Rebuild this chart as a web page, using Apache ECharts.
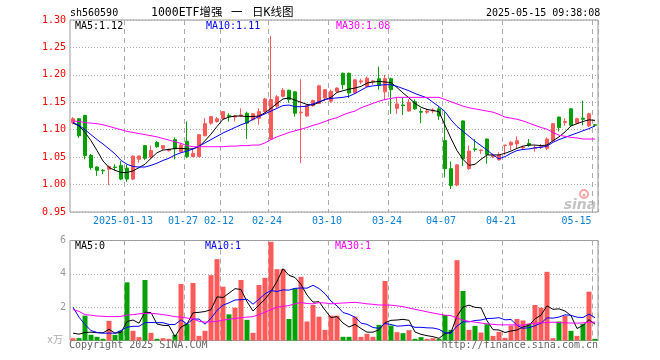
<!DOCTYPE html>
<html><head><meta charset="utf-8">
<script src="https://cdn.jsdelivr.net/npm/echarts@6/dist/echarts.min.js"></script>
<style>html,body{margin:0;padding:0;background:#fff}#c{width:660px;height:360px}</style>
</head><body><div id="c"></div>
<script>
const dates = ['2024-12-30','2024-12-31','2025-01-02','2025-01-03','2025-01-06','2025-01-07','2025-01-08','2025-01-09','2025-01-10','2025-01-13','2025-01-14','2025-01-15','2025-01-16','2025-01-17','2025-01-20','2025-01-21','2025-01-22','2025-01-23','2025-01-24','2025-01-27','2025-02-05','2025-02-06','2025-02-07','2025-02-10','2025-02-11','2025-02-12','2025-02-13','2025-02-14','2025-02-17','2025-02-18','2025-02-19','2025-02-20','2025-02-21','2025-02-24','2025-02-25','2025-02-26','2025-02-27','2025-02-28','2025-03-03','2025-03-04','2025-03-05','2025-03-06','2025-03-07','2025-03-10','2025-03-11','2025-03-12','2025-03-13','2025-03-14','2025-03-17','2025-03-18','2025-03-19','2025-03-20','2025-03-21','2025-03-24','2025-03-25','2025-03-26','2025-03-27','2025-03-28','2025-03-31','2025-04-01','2025-04-02','2025-04-03','2025-04-07','2025-04-08','2025-04-09','2025-04-10','2025-04-11','2025-04-14','2025-04-15','2025-04-16','2025-04-17','2025-04-18','2025-04-21','2025-04-22','2025-04-23','2025-04-24','2025-04-25','2025-04-28','2025-04-29','2025-04-30','2025-05-06','2025-05-07','2025-05-08','2025-05-09','2025-05-12','2025-05-13','2025-05-14','2025-05-15'];
const openP = [1.113,1.120,1.126,1.053,1.032,1.026,1.028,1.032,1.035,1.030,1.010,1.046,1.071,1.050,1.077,1.066,1.062,1.082,1.060,1.079,1.051,1.051,1.089,1.112,1.115,1.120,1.126,1.123,1.125,1.130,1.118,1.121,1.133,1.083,1.143,1.161,1.172,1.169,1.131,1.125,1.144,1.148,1.158,1.152,1.170,1.203,1.203,1.167,1.187,1.179,1.187,1.193,1.169,1.193,1.139,1.145,1.134,1.151,1.133,1.132,1.134,1.138,1.080,1.029,0.999,1.116,1.029,1.065,1.062,1.083,1.051,1.045,1.071,1.072,1.074,1.067,1.075,1.066,1.068,1.066,1.080,1.123,1.113,1.138,1.112,1.121,1.107,1.109];
const closeP = [1.120,1.089,1.053,1.031,1.026,1.025,1.033,1.031,1.010,1.010,1.052,1.052,1.048,1.062,1.069,1.071,1.064,1.065,1.072,1.051,1.057,1.091,1.111,1.124,1.120,1.133,1.124,1.125,1.127,1.112,1.129,1.133,1.156,1.155,1.160,1.172,1.155,1.130,1.132,1.144,1.153,1.180,1.173,1.170,1.176,1.182,1.167,1.191,1.189,1.194,1.189,1.181,1.193,1.173,1.147,1.144,1.150,1.138,1.132,1.134,1.136,1.125,1.029,0.998,1.036,1.047,1.061,1.064,1.063,1.055,1.053,1.054,1.072,1.077,1.080,1.068,1.072,1.067,1.069,1.083,1.111,1.104,1.115,1.108,1.120,1.119,1.129,1.108];
const lowP = [1.110,1.085,1.046,1.027,1.016,1.019,0.999,1.026,1.008,1.005,1.008,1.040,1.045,1.046,1.067,1.063,1.060,1.046,1.058,1.048,1.050,1.050,1.088,1.109,1.113,1.118,1.115,1.115,1.124,1.083,1.117,1.109,1.131,1.082,1.140,1.159,1.149,1.124,1.039,1.123,1.142,1.147,1.152,1.149,1.168,1.174,1.158,1.165,1.183,1.178,1.182,1.173,1.155,1.129,1.129,1.127,1.133,1.136,1.112,1.129,1.130,1.118,1.013,0.992,0.997,1.034,1.027,1.060,1.056,1.038,1.048,1.044,1.054,1.063,1.066,1.065,1.069,1.060,1.065,1.063,1.078,1.097,1.107,1.105,1.110,1.108,1.105,1.106];
const highP = [1.123,1.121,1.127,1.056,1.033,1.028,1.035,1.037,1.043,1.036,1.053,1.053,1.072,1.071,1.079,1.072,1.066,1.086,1.075,1.115,1.066,1.092,1.121,1.125,1.123,1.134,1.130,1.127,1.139,1.133,1.130,1.139,1.158,1.271,1.163,1.176,1.173,1.170,1.192,1.146,1.155,1.182,1.174,1.173,1.177,1.204,1.204,1.192,1.193,1.197,1.191,1.215,1.200,1.195,1.158,1.158,1.156,1.155,1.139,1.138,1.139,1.142,1.132,1.042,1.037,1.117,1.071,1.083,1.064,1.084,1.057,1.059,1.072,1.079,1.088,1.071,1.083,1.071,1.074,1.086,1.112,1.124,1.121,1.139,1.122,1.153,1.131,1.110];
const ma5 = [1.112,1.107,1.095,1.080,1.062,1.043,1.031,1.026,1.022,1.022,1.025,1.031,1.037,1.048,1.058,1.063,1.064,1.066,1.066,1.065,1.065,1.069,1.080,1.092,1.106,1.119,1.123,1.125,1.125,1.124,1.124,1.125,1.131,1.139,1.148,1.156,1.158,1.154,1.150,1.146,1.145,1.150,1.155,1.159,1.168,1.171,1.174,1.176,1.179,1.185,1.187,1.188,1.187,1.186,1.177,1.167,1.158,1.148,1.141,1.137,1.135,1.133,1.108,1.084,1.062,1.046,1.035,1.037,1.046,1.054,1.054,1.054,1.057,1.061,1.066,1.070,1.072,1.072,1.071,1.072,1.080,1.087,1.096,1.107,1.111,1.115,1.118,1.117];
const ma10 = [1.113,1.108,1.100,1.091,1.082,1.074,1.065,1.056,1.044,1.037,1.033,1.032,1.032,1.035,1.039,1.044,1.048,1.054,1.058,1.061,1.065,1.070,1.076,1.082,1.088,1.094,1.099,1.104,1.109,1.113,1.119,1.124,1.129,1.134,1.139,1.144,1.145,1.142,1.142,1.143,1.147,1.151,1.155,1.157,1.158,1.159,1.161,1.166,1.172,1.178,1.180,1.181,1.182,1.182,1.179,1.175,1.171,1.166,1.162,1.158,1.150,1.142,1.133,1.118,1.106,1.097,1.088,1.079,1.071,1.063,1.054,1.047,1.051,1.057,1.062,1.064,1.065,1.067,1.068,1.070,1.077,1.082,1.086,1.090,1.094,1.098,1.102,1.107];
const ma30 = [1.116,1.115,1.113,1.112,1.111,1.109,1.106,1.103,1.100,1.097,1.095,1.093,1.091,1.089,1.087,1.084,1.081,1.078,1.075,1.071,1.069,1.069,1.069,1.069,1.069,1.069,1.070,1.070,1.071,1.071,1.072,1.072,1.076,1.082,1.087,1.091,1.095,1.098,1.101,1.104,1.108,1.111,1.115,1.119,1.122,1.127,1.131,1.134,1.140,1.144,1.148,1.152,1.155,1.157,1.159,1.159,1.159,1.159,1.159,1.159,1.159,1.159,1.155,1.151,1.147,1.143,1.140,1.138,1.136,1.134,1.132,1.128,1.123,1.121,1.119,1.116,1.112,1.108,1.104,1.101,1.095,1.090,1.088,1.086,1.085,1.083,1.083,1.083];
const volume = [0.14,0.14,1.49,0.34,0.22,0.1,1.18,0.34,0.58,3.49,0.58,0.2,3.63,0.46,0.1,0.14,0.1,0.34,3.39,1.0,3.45,0.28,0.58,3.92,4.88,3.23,1.57,1.97,3.63,1.24,0.46,3.33,3.76,5.92,4.28,4.28,1.29,3.13,3.82,1.14,2.13,1.43,0.64,1.49,1.49,0.22,0.22,1.43,0.22,0.4,0.22,0.94,3.57,0.9,0.5,0.44,0.62,0.1,0.2,0.1,0.14,0.1,1.53,0.64,4.82,2.97,0.64,0.88,0.48,0.98,0.28,0.52,0.16,0.9,1.29,1.2,1.0,2.13,1.97,4.12,0.14,1.14,1.48,0.58,0.28,1.0,2.93,0.1];
const vma5 = [0.44,0.38,0.48,0.5,0.47,0.46,0.67,0.44,0.48,1.14,1.23,1.04,1.70,1.67,0.99,0.91,0.89,0.23,0.81,0.99,1.66,1.69,1.74,1.85,2.62,2.58,2.84,3.11,3.06,2.33,1.77,2.13,2.48,2.94,3.55,4.31,3.91,3.78,3.36,2.73,2.30,2.33,1.83,1.37,1.44,1.05,0.81,0.97,0.72,0.50,0.50,0.64,1.07,1.21,1.23,1.27,1.21,0.51,0.37,0.29,0.23,0.13,0.41,0.50,1.45,2.01,2.12,1.99,1.96,1.19,0.65,0.63,0.48,0.57,0.63,0.81,0.91,1.30,1.52,2.08,1.87,1.90,1.77,1.49,0.72,0.90,1.25,0.98];
const vma10 = [2.0,1.4,0.95,0.6,0.48,0.44,0.44,0.44,0.6,0.80,0.85,0.85,1.07,1.08,1.07,1.07,0.96,0.96,1.24,0.99,1.28,1.29,0.98,1.33,1.81,2.12,2.26,2.43,2.45,2.48,2.18,2.48,2.80,3.00,2.94,3.04,3.02,3.13,3.15,3.14,3.31,3.12,2.81,2.36,2.08,1.68,1.57,1.40,1.04,0.97,0.78,0.73,1.02,0.96,0.86,0.88,0.92,0.79,0.79,0.76,0.75,0.67,0.46,0.44,0.87,1.12,1.12,1.20,1.23,1.32,1.33,1.37,1.24,1.26,0.91,0.73,0.77,0.89,1.04,1.36,1.34,1.41,1.54,1.51,1.40,1.38,1.58,1.37];
const vma30 = [1.85,1.75,1.55,1.52,1.47,1.45,1.43,1.43,1.45,1.53,1.55,1.6,1.63,1.63,1.6,1.55,1.5,1.43,1.4,1.35,1.3,1.15,1.1,1.12,1.15,1.22,1.28,1.32,1.37,1.4,1.43,1.55,1.7,1.85,2.0,2.05,2.1,2.2,2.28,2.22,2.2,2.27,2.25,2.2,2.23,2.25,2.27,2.29,2.25,2.2,2.17,2.13,2.13,2.12,2.08,2.03,1.95,1.87,1.8,1.72,1.65,1.58,1.52,1.49,1.35,1.22,1.15,1.1,1.05,1.0,0.97,0.94,0.94,0.94,0.93,0.92,1.0,1.04,1.06,1.08,1.1,1.08,1.06,1.05,1.04,1.06,1.1,1.1];
const labelDates = ['2025-01-13','2025-01-27','2025-02-12','2025-02-24','2025-03-10','2025-03-24','2025-04-07','2025-04-21','2025-05-15'];
const priceMin = 0.95, priceMax = 1.30, priceStep = 0.05;
const volMin = 0, volMax = 6, volStep = 2;

const RED = '#ff5a5a', GREEN = '#04a004';
const MONO = "'DejaVu Sans Mono','Noto Sans CJK SC',monospace";
const labelSet = new Set(labelDates);
const lastDate = dates[dates.length - 1];
const n = dates.length;

function txt(text, x, y, fill, size, align, extra) {
  return Object.assign({
    type: 'text', silent: true,
    style: { text: text, x: x, y: y, fill: fill,
      font: (size || 10) + 'px ' + MONO,
      align: align || 'left', textAlign: align || 'left',
      verticalAlign: 'middle', textVerticalAlign: 'middle' }
  }, extra || {});
}

const chart = echarts.init(document.getElementById('c'), null, { renderer: 'canvas' });
const gridLine = { show: true, interval: (i, v) => labelSet.has(v), lineStyle: { color: '#aaa', width: 1, type: [5, 4] } };
const option = {
  animation: false,
  backgroundColor: '#fff',
  grid: [
    { left: 70, top: 20, width: 528, height: 192, show: true, borderColor: '#999', borderWidth: 1, outerBoundsMode: 'none' },
    { left: 70, top: 240.5, width: 528, height: 100, show: true, borderColor: '#999', borderWidth: 1, outerBoundsMode: 'none' }
  ],
  xAxis: [
    { type: 'category', gridIndex: 0, data: dates, boundaryGap: true,
      axisLine: { show: false }, axisTick: { show: false },
      axisLabel: { show: true, interval: (i, v) => labelSet.has(v), color: '#0a7fd2',
        fontFamily: MONO, fontSize: 10, margin: 4, padding: [0, 8, 0, 0],
        formatter: (v) => v === labelDates[0] ? v : (v === lastDate ? '{r|' + v.slice(5) + '}' : v.slice(5)),
        rich: { r: { color: '#0a7fd2', fontFamily: MONO, fontSize: 10, padding: [0, 29, 0, 0] } } },
      splitLine: gridLine },
    { type: 'category', gridIndex: 1, data: dates, boundaryGap: true,
      axisLine: { show: false }, axisTick: { show: false }, axisLabel: { show: false },
      splitLine: gridLine }
  ],
  yAxis: [
    { type: 'value', gridIndex: 0, min: priceMin, max: priceMax, interval: priceStep,
      axisLine: { show: false }, axisTick: { show: false },
      axisLabel: { color: '#ff0000', fontFamily: MONO, fontSize: 10, margin: 4, formatter: (v) => v.toFixed(2) },
      splitLine: { show: true, lineStyle: { color: '#aaa', width: 1, type: [1, 2] } } },
    { type: 'value', gridIndex: 1, min: volMin, max: volMax, interval: volStep,
      axisLine: { show: false }, axisTick: { show: false },
      axisLabel: { color: '#999', fontFamily: MONO, fontSize: 10, margin: 4, formatter: (v) => v === 0 ? '' : String(v) },
      splitLine: { show: true, lineStyle: { color: '#aaa', width: 1, type: [1, 2] } } }
  ],
  series: [
    { type: 'candlestick', xAxisIndex: 0, yAxisIndex: 0, barWidth: 4,
      data: dates.map((d, i) => [openP[i], closeP[i], lowP[i], highP[i]]),
      itemStyle: { color: RED, color0: GREEN, borderColor: RED, borderColor0: GREEN, borderWidth: 1 },
      emphasis: { disabled: true } },
    { type: 'line', xAxisIndex: 0, yAxisIndex: 0, data: ma5, symbol: 'none', lineStyle: { color: '#000', width: 1 }, emphasis: { disabled: true } },
    { type: 'line', xAxisIndex: 0, yAxisIndex: 0, data: ma10, symbol: 'none', lineStyle: { color: '#0000ff', width: 1 }, emphasis: { disabled: true } },
    { type: 'line', xAxisIndex: 0, yAxisIndex: 0, data: ma30, symbol: 'none', lineStyle: { color: '#ff00ff', width: 1 }, emphasis: { disabled: true } },
    { type: 'bar', xAxisIndex: 1, yAxisIndex: 1, barWidth: 5, data: volume,
      itemStyle: { color: (p) => closeP[p.dataIndex] >= openP[p.dataIndex] ? RED : GREEN },
      emphasis: { disabled: true } },
    { type: 'line', xAxisIndex: 1, yAxisIndex: 1, data: vma5, symbol: 'none', lineStyle: { color: '#000', width: 1 }, emphasis: { disabled: true } },
    { type: 'line', xAxisIndex: 1, yAxisIndex: 1, data: vma10, symbol: 'none', lineStyle: { color: '#0000ff', width: 1 }, emphasis: { disabled: true } },
    { type: 'line', xAxisIndex: 1, yAxisIndex: 1, data: vma30, symbol: 'none', lineStyle: { color: '#ff00ff', width: 1 }, emphasis: { disabled: true } }
  ],
  graphic: [
    txt('sh560590', 70, 13, '#000', 10),
    txt('1000ETF增强', 151, 13, '#000', 11.5),
    txt('一', 231, 13, '#000', 11.5),
    txt('日K线图', 252, 13, '#000', 11.5),
    txt('2025-05-15 09:38:08', 486, 13, '#000', 10),
    txt('MA5:' + ma5[n - 1].toFixed(2), 75, 26.5, '#000', 10),
    txt('MA10:' + ma10[n - 1].toFixed(2), 206, 26.5, '#0000ff', 10),
    txt('MA30:' + ma30[n - 1].toFixed(2), 336, 26.5, '#ff00ff', 10),
    txt('MA5:' + Math.floor(vma5[n - 1]), 75, 246.7, '#000', 10),
    txt('MA10:' + Math.floor(vma10[n - 1]), 205, 246.7, '#0000ff', 10),
    txt('MA30:' + Math.floor(vma30[n - 1]), 335, 246.7, '#ff00ff', 10),
    txt('x万', 63, 340, '#aaa', 10, 'right'),
    txt('Copyright 2025 SINA.COM', 69, 345.5, '#666', 10),
    txt('http://finance.sina.com.cn', 598, 345.5, '#666', 10, 'right'),
    { type: 'circle', silent: true, shape: { cx: 584, cy: 194, r: 4 }, style: { fill: 'none', stroke: '#f6a5a5', lineWidth: 2 } },
    { type: 'circle', silent: true, shape: { cx: 584, cy: 195, r: 1.5 }, style: { fill: '#f6a5a5' } },
    { type: 'text', silent: true, style: { text: 'sina', x: 580, y: 205, fill: '#c4c4c4', font: "italic bold 14px 'DejaVu Sans'", align: 'center', textAlign: 'center', verticalAlign: 'middle', textVerticalAlign: 'middle' } }
  ]
};
chart.setOption(option);
</script>
</body></html>
